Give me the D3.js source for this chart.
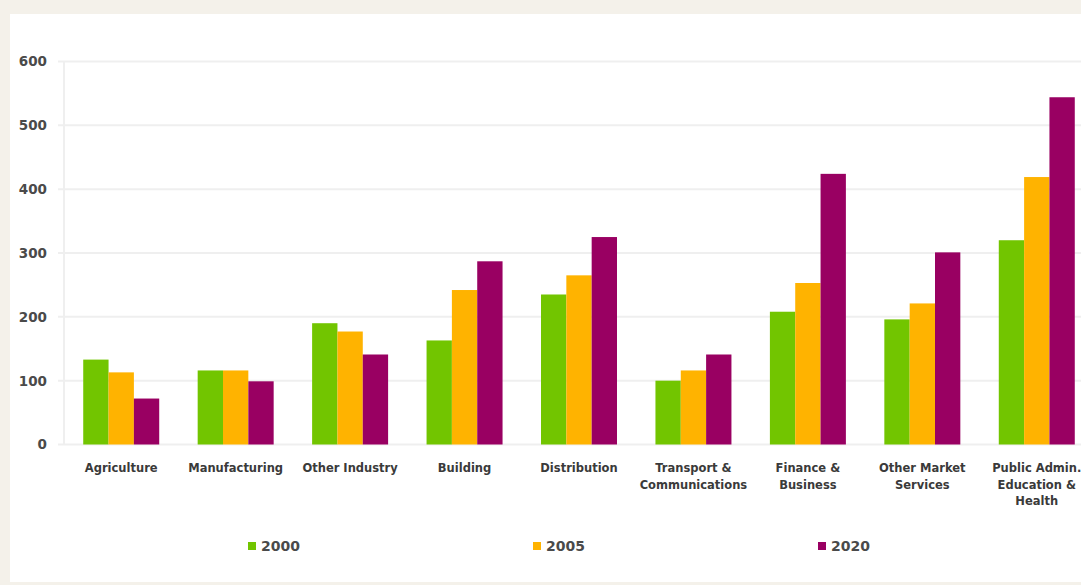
<!DOCTYPE html>
<html>
<head>
<meta charset="utf-8">
<script src="https://cdn.jsdelivr.net/npm/d3@7"></script>
<style>
  html, body { margin: 0; padding: 0; background: #f4f1ea; }
  svg { display: block; }
</style>
</head>
<body>
<script>
// Sector categories (multi-line labels split on "\n")
const categories = [
  "Agriculture", "Manufacturing", "Other Industry", "Building", "Distribution",
  "Transport &\nCommunications", "Finance &\nBusiness", "Other Market\nServices",
  "Public Admin.\nEducation &\nHealth"
];
const seriesNames = ["2000", "2005", "2020"];
const values2000 = [133, 116, 190, 163, 235, 100, 208, 196, 320];
const values2005 = [113, 116, 177, 242, 265, 116, 253, 221, 419];
const values2020 = [72, 99, 141, 287, 325, 141, 424, 301, 544];
const yTicks = [0, 100, 200, 300, 400, 500, 600];
const colors = ["#72c500", "#ffb300", "#990062"];

const W = 1081, H = 585;
const svg = d3.select("body").append("svg").attr("width", W).attr("height", H);

// white panel
svg.append("rect").attr("x", 10).attr("y", 14).attr("width", W - 10).attr("height", 568)
  .attr("fill", "#ffffff");

const series = [values2000, values2005, values2020];
const data = categories.map((c, i) => ({ cat: c, vals: series.map(s => s[i]) }));

const x = d3.scaleBand().domain(categories).range([64, 1094])
  .paddingInner(0.336).paddingOuter(0.168);
const xs = d3.scaleBand().domain(seriesNames).range([0, x.bandwidth()]);
const y = d3.scaleLinear().domain([0, 600]).range([444.5, 61.5]);

// gridlines
svg.append("g").selectAll("line").data(yTicks).join("line")
  .attr("x1", 58).attr("x2", W)
  .attr("y1", d => y(d)).attr("y2", d => y(d))
  .attr("stroke", "#efefef").attr("stroke-width", 2);

// vertical axis line
svg.append("line").attr("x1", 64).attr("x2", 64).attr("y1", y(600)).attr("y2", y(0))
  .attr("stroke", "#efefef").attr("stroke-width", 2);

// y tick labels
svg.append("g").selectAll("text").data(yTicks).join("text")
  .attr("x", 47).attr("y", d => y(d)).attr("dy", "0.36em")
  .attr("text-anchor", "end")
  .attr("font-family", "DejaVu Sans, sans-serif").attr("font-size", 13.5)
  .attr("font-weight", "bold").attr("fill", "#4a4a4a").text(d => d);

// bars
const groups = svg.append("g").selectAll("g").data(data).join("g")
  .attr("transform", d => `translate(${x(d.cat)},0)`);
groups.selectAll("rect").data(d => d.vals.map((v, j) => ({ v, s: seriesNames[j], j })))
  .join("rect")
  .attr("x", d => xs(d.s)).attr("width", xs.bandwidth())
  .attr("y", d => y(d.v)).attr("height", d => y(0) - y(d.v))
  .attr("fill", d => colors[d.j]);

// category labels
const labels = svg.append("g").selectAll("text").data(categories).join("text")
  .attr("x", d => x(d) + x.bandwidth() / 2)
  .attr("y", 472)
  .attr("text-anchor", "middle")
  .attr("font-family", "DejaVu Sans, sans-serif").attr("font-size", 11.5)
  .attr("font-weight", "bold").attr("fill", "#3a3a3a");
labels.each(function (d) {
  const t = d3.select(this);
  d.split("\n").forEach((line, k) => {
    t.append("tspan").attr("x", x(d) + x.bandwidth() / 2)
      .attr("dy", k === 0 ? 0 : 16.5).text(line);
  });
});

// legend
const legendX = d3.scalePoint().domain(seriesNames).range([248, 818]);
const leg = svg.append("g").selectAll("g").data(seriesNames).join("g")
  .attr("transform", d => `translate(${legendX(d)},546)`);
leg.append("rect").attr("x", 0).attr("y", -4).attr("width", 8).attr("height", 8)
  .attr("fill", (d, i) => colors[i]);
leg.append("text").attr("x", 13).attr("y", 0).attr("dy", "0.36em")
  .attr("font-family", "DejaVu Sans, sans-serif").attr("font-size", 14)
  .attr("font-weight", "bold").attr("fill", "#4a4a4a").text(d => d);
</script>
</body>
</html>
